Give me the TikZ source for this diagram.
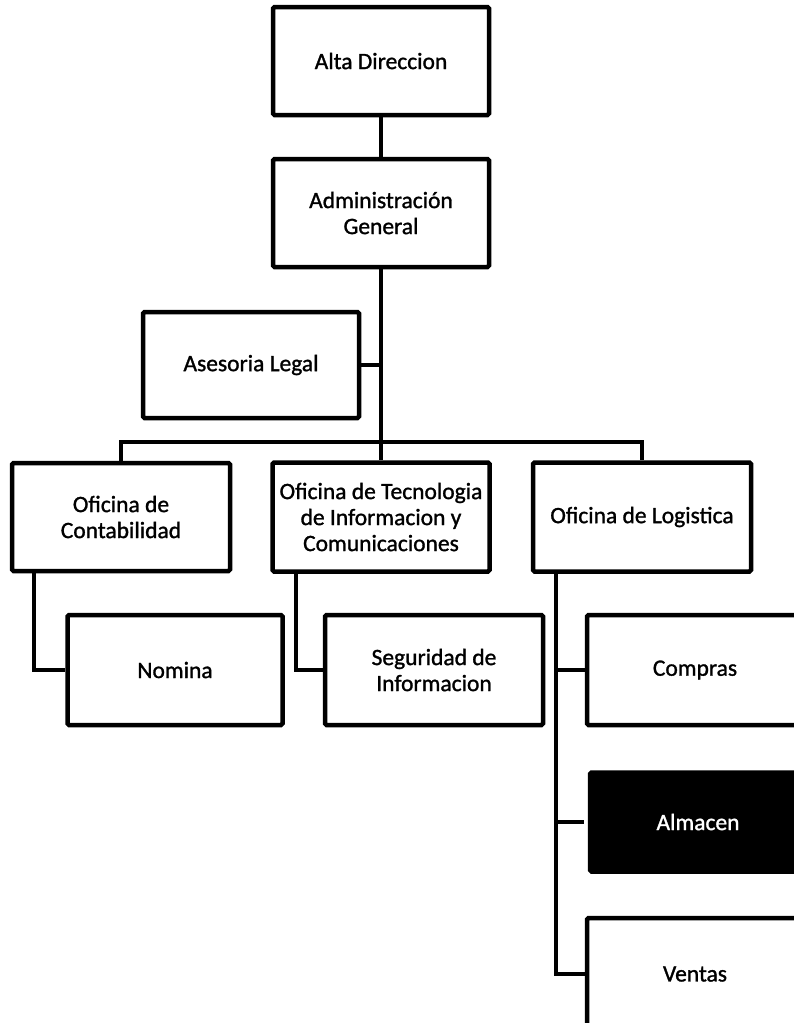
\documentclass[tikz,border=0pt]{standalone}
\usepackage{fontspec}
\setmainfont{Carlito}[FakeBold=1.2]
\begin{document}
\begin{tikzpicture}[x=1pt,y=-1pt,
  box/.style={draw=black,line width=4.5pt,rounded corners=1.5pt,fill=white,
    align=center,inner sep=2pt,font=\fontsize{23.5}{26}\selectfont},
  dark/.style={box,fill=black,text=white},
  link/.style={line width=4.5pt,line join=miter}]
\useasboundingbox (0,0) rectangle (794,1023);
\clip (0,0) rectangle (794,1023);
\node[box,minimum width=216pt,minimum height=108pt] (alta) at (381,61) {Alta Direccion};
\node[box,minimum width=216pt,minimum height=108pt] (admin) at (381,213) {Administración\\General};
\node[box,minimum width=216pt,minimum height=106pt] (legal) at (251,365) {Asesoria Legal};
\node[box,minimum width=218pt,minimum height=108pt] (conta) at (121,517) {Oficina de\\Contabilidad};
\node[box,minimum width=217pt,minimum height=109pt,inner sep=0pt] (tec) at (381,517) {Oficina de Tecnologia\\de Informacion y\\Comunicaciones};
\node[box,minimum width=218pt,minimum height=109pt] (log) at (642,517) {Oficina de Logistica};
\node[box,minimum width=215pt,minimum height=110pt] (nom) at (175,670) {Nomina};
\node[box,minimum width=218pt,minimum height=110pt] (seg) at (434,670) {Seguridad de\\Informacion};
\node[box,minimum width=216pt,minimum height=110pt] (comp) at (695,670) {Compras};
\node[dark,minimum width=216pt,minimum height=99pt] (alm) at (698,822) {Almacen};
\node[box,minimum width=216pt,minimum height=112pt] (ven) at (695,974) {Ventas};
\coordinate (bus) at (381,442);
\draw[link] (alta.south) -- (admin.north);
\draw[link] (admin.south) -- (tec.north);
\draw[link] (legal.east) -- (admin.south |- legal.east);
\draw[link] (conta.north) |- (bus) -| (log.north);
\draw[link] ([xshift=-87pt]conta.south) |- (nom.west);
\draw[link] ([xshift=-85pt]tec.south) |- (seg.west);
\draw[link] ([xshift=-86pt]log.south) |- (ven.west);
\draw[link] ([xshift=-86pt]log.south) |- (comp.west);
\draw[link,shorten >=4pt] ([xshift=-86pt]log.south) |- (alm.west);
\end{tikzpicture}
\end{document}
